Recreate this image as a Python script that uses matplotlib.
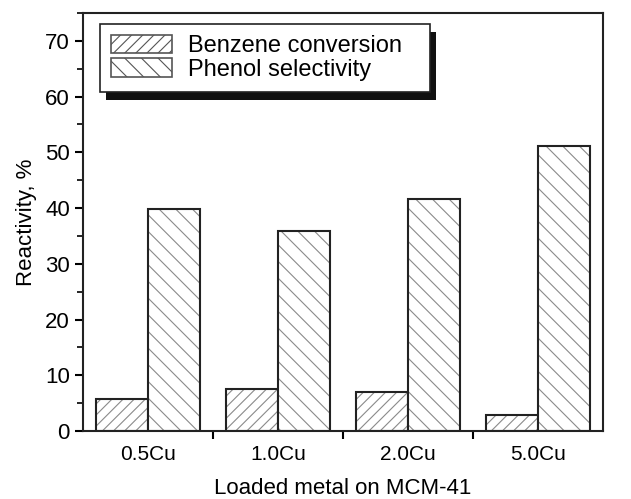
import numpy as np
import matplotlib
matplotlib.use("Agg")
import matplotlib.pyplot as plt
from matplotlib.patches import Rectangle
from matplotlib.ticker import MultipleLocator, FixedLocator

categories = ["0.5Cu", "1.0Cu", "2.0Cu", "5.0Cu"]
benzene_conversion = [5.7, 7.5, 7.0, 2.8]
phenol_selectivity = [39.9, 35.9, 41.7, 51.2]

plt.rcParams["font.family"] = ["Liberation Sans", "DejaVu Sans"]
plt.rcParams["hatch.linewidth"] = 0.8

fig = plt.figure(figsize=(6.31, 4.99), dpi=100, facecolor="white")
ax = fig.add_axes([0.1315, 0.1363, 0.824, 0.8377])

x = np.arange(len(categories))
w = 0.4
series = [
    (benzene_conversion, x - w / 2, "///", "Benzene conversion"),
    (phenol_selectivity, x + w / 2, "\\\\", "Phenol selectivity"),
]
handles = []
for vals, pos, hatch, label in series:
    # hatch drawn in grey, outline drawn separately in black
    ax.bar(pos, vals, w, color="white", edgecolor="#8a8a8a", hatch=hatch, linewidth=0)
    ax.bar(pos, vals, w, fill=False, edgecolor="#222222", linewidth=1.5)
    handles.append(Rectangle((0, 0), 1, 1, facecolor="white", edgecolor="#555555",
                             hatch=hatch, linewidth=1.2))

ax.set_xlim(-0.5, 3.5)
ax.set_ylim(0, 75)
ax.set_xticks(x)
ax.set_xticklabels(categories)
ax.xaxis.set_minor_locator(FixedLocator([0.5, 1.5, 2.5]))
ax.tick_params(axis="x", which="major", length=0, pad=10, labelsize=15)
ax.tick_params(axis="x", which="minor", length=6, width=1.5, direction="out")
ax.yaxis.set_major_locator(MultipleLocator(10))
ax.yaxis.set_minor_locator(MultipleLocator(5))
ax.tick_params(axis="y", which="major", length=6, width=1.5, direction="out", labelsize=16)
ax.tick_params(axis="y", which="minor", length=4, width=1.2, direction="out")
ax.set_yticks(range(0, 71, 10))

for s in ax.spines.values():
    s.set_linewidth(1.5)
    s.set_color("#222222")

ax.set_xlabel("Loaded metal on MCM-41", fontsize=16, labelpad=10)
ax.set_ylabel("Reactivity, %", fontsize=16, labelpad=6)

leg = ax.legend(handles, [h[3] for h in series], loc="upper left",
                bbox_to_anchor=(0.0327, 0.0, 0.635, 0.9737), mode="expand",
                fontsize=17, frameon=True,
                fancybox=False, framealpha=1.0, facecolor="white",
                handlelength=2.6, handleheight=0.8,
                handletextpad=0.65, labelspacing=0.05, borderpad=0.47,
                borderaxespad=0.0)
leg.get_frame().set_edgecolor("#222222")
leg.get_frame().set_linewidth(1.2)
leg.set_zorder(6)

# solid drop shadow behind the legend box
fig.canvas.draw()
bb = leg.get_window_extent()
shadow = Rectangle((bb.x0 + 6, bb.y0 - 8), bb.width, bb.height,
                   transform=None, facecolor="#111111", edgecolor="none",
                   zorder=5, clip_on=False)
ax.add_artist(shadow)

fig.savefig("out.png", dpi=100, facecolor="white")
